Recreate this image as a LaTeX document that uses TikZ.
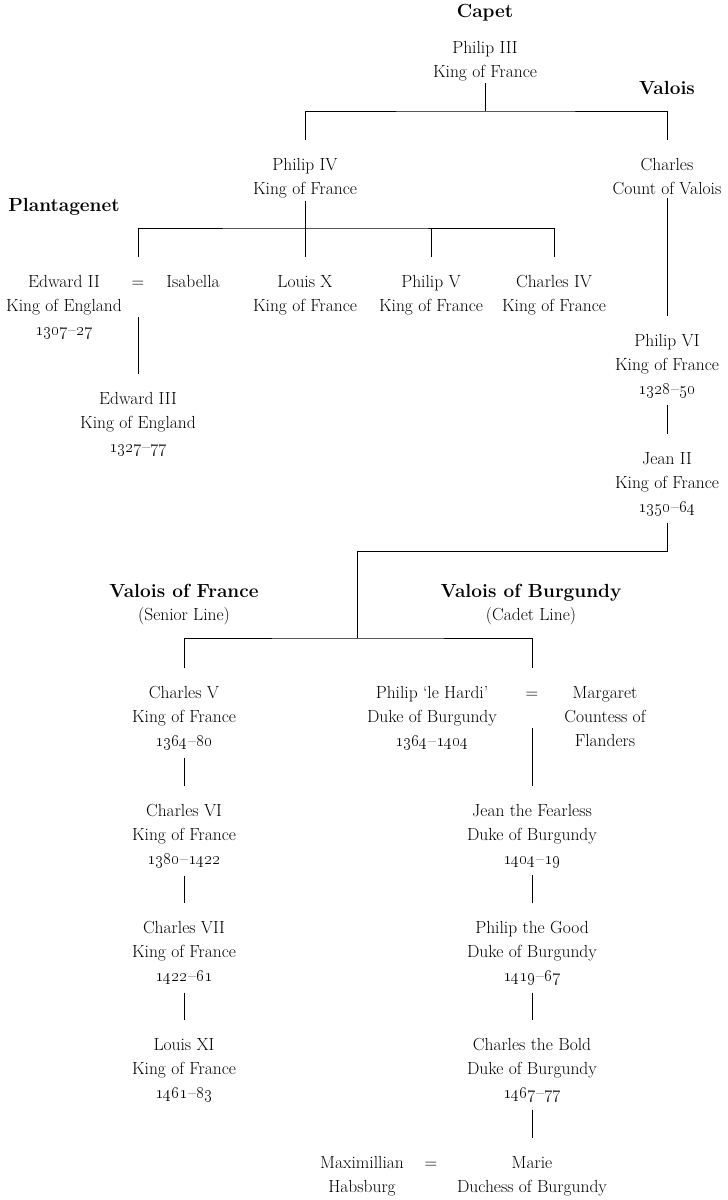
\documentclass[tikz,border=0pt]{standalone}
\newcommand\yr[2]{\oldstylenums{#1}–\oldstylenums{#2}}
\begin{document}
\begin{tikzpicture}[x=1pt,y=-1pt,
  person/.style={align=center,anchor=north,inner sep=0pt,font=\fontsize{17.5}{24}\selectfont},
  eqsign/.style={anchor=north,inner sep=0pt,text height=12pt,text depth=3.4pt,font=\fontsize{17.5}{24}\selectfont},
  house/.style={anchor=base,inner sep=0pt,font=\fontsize{19}{24}\selectfont\bfseries},
  sub/.style={anchor=base,inner sep=0pt,font=\fontsize{17.5}{24}\selectfont},
  link/.style={line width=0.8pt,black}
]
\useasboundingbox (0,0) rectangle (728,1200);

% house labels
\node[house] (capet) at (485,17) {Capet};
\node[house] (valois) at (667,94) {Valois};
\node[house] (plant) at (64,211) {Plantagenet};
\node[house] (vfr) at (184,597) {Valois of France};
\node[sub] (vfrs) at (184,620) {(Senior Line)};
\node[house] (vbu) at (531,597) {Valois of Burgundy};
\node[sub] (vbus) at (531,620) {(Cadet Line)};

% people
\node[person] (p3) at (485,41) {Philip III\\King of France};
\node[person] (p4) at (305,158) {Philip IV\\King of France};
\node[person] (ch) at (667,158) {Charles\\Count of Valois};
\node[person] (ed2) at (64,275) {Edward II\\King of England\\\yr{1307}{27}};
\node[eqsign] (eq1) at (138,275) {=};
\node[person] (isab) at (193,275) {Isabella};
\node[person] (lx) at (305,275) {Louis X\\King of France};
\node[person] (p5) at (431,275) {Philip V\\King of France};
\node[person] (c4) at (554,275) {Charles IV\\King of France};
\node[person] (e3) at (138,392) {Edward III\\King of England\\\yr{1327}{77}};
\node[person] (p6) at (667,334) {Philip VI\\King of France\\\yr{1328}{50}};
\node[person] (j2) at (667,452) {Jean II\\King of France\\\yr{1350}{64}};
\node[person] (c5) at (184,686) {Charles V\\King of France\\\yr{1364}{80}};
\node[person] (plh) at (432,686) {Philip ‘le Hardi’\\Duke of Burgundy\\\yr{1364}{1404}};
\node[eqsign] (eq2) at (532,686) {=};
\node[person] (mar) at (605,686) {Margaret\\Countess of\\Flanders};
\node[person] (c6) at (184,804) {Charles VI\\King of France\\\yr{1380}{1422}};
\node[person] (jtf) at (532,804) {Jean the Fearless\\Duke of Burgundy\\\yr{1404}{19}};
\node[person] (c7) at (184,921) {Charles VII\\King of France\\\yr{1422}{61}};
\node[person] (ptg) at (532,921) {Philip the Good\\Duke of Burgundy\\\yr{1419}{67}};
\node[person] (l11) at (184,1038) {Louis XI\\King of France\\\yr{1461}{83}};
\node[person] (ctb) at (532,1038) {Charles the Bold\\Duke of Burgundy\\\yr{1467}{77}};
\node[person] (maxi) at (362,1156) {Maximillian\\Habsburg};
\node[eqsign] (eq3) at (431,1156) {=};
\node[person] (marie) at (532,1156) {Marie\\Duchess of Burgundy};

% fork points
\coordinate (fork1) at (485,111);
\coordinate (fork2) at (305,228);
\coordinate (fork3) at (357,638);

% connectors
\draw[link] ([yshift=-2pt]p3.south) -- (fork1);
\draw[link] ([yshift=18pt]p4.north) |- (fork1) -| ([yshift=18pt]ch.north);

\draw[link] ([yshift=-3pt]p4.south) -- ([yshift=18pt]lx.north);
\draw[link] ([yshift=18pt]eq1.north) |- (fork2) -| ([yshift=18pt]c4.north);
\draw[link] ([yshift=18pt]p5.north) -- (p5.north |- fork2);

\draw[link] ([yshift=-26pt]eq1.south) -- ([yshift=18pt]e3.north);

\draw[link] ([yshift=-3pt]ch.south) -- ([yshift=18pt]p6.north);
\draw[link] ([yshift=-7.5pt]p6.south) -- ([yshift=18pt]j2.north);
\draw[link] ([yshift=-7pt]j2.south) -- ++(0,29) -| (fork3);
\draw[link] ([yshift=18pt]c5.north) |- (fork3) -| ([yshift=18pt]eq2.north);

\draw[link] ([yshift=-7.5pt]c5.south) -- ([yshift=18pt]c6.north);
\draw[link] ([yshift=-7.5pt]c6.south) -- ([yshift=18pt]c7.north);
\draw[link] ([yshift=-7.5pt]c7.south) -- ([yshift=18pt]l11.north);

\draw[link] ([yshift=-26pt]eq2.south) -- ([yshift=18pt]jtf.north);
\draw[link] ([yshift=-7.5pt]jtf.south) -- ([yshift=18pt]ptg.north);
\draw[link] ([yshift=-7.5pt]ptg.south) -- ([yshift=18pt]ctb.north);
\draw[link] ([yshift=-7.5pt]ctb.south) -- ([yshift=18pt]marie.north);
\end{tikzpicture}
\end{document}
